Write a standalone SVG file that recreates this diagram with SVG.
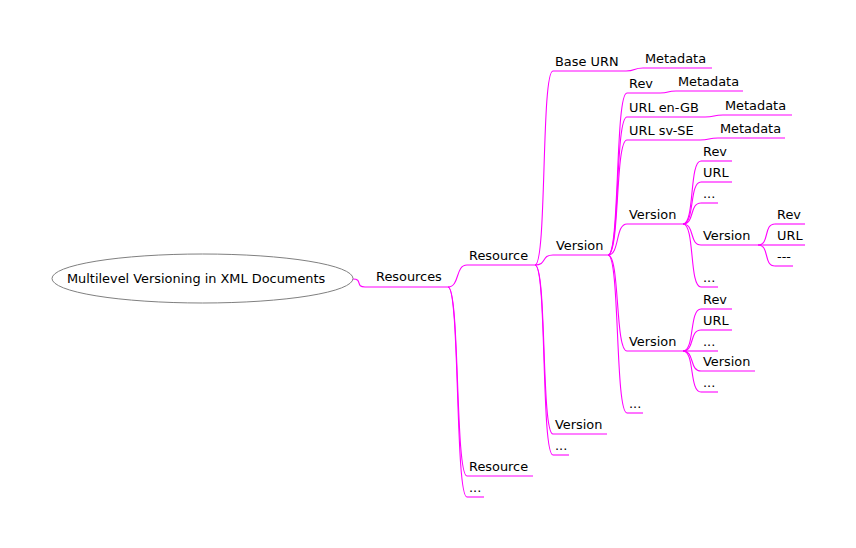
<svg xmlns="http://www.w3.org/2000/svg" width="856" height="548" viewBox="0 0 856 548">
<style>
text{font-family:"DejaVu Sans","Liberation Sans",sans-serif;font-size:12.9px;fill:#000}
.u{stroke:#ff00ff;stroke-width:1.1;fill:none}
.e path{stroke:#ff00ff;stroke-width:1.1;fill:none}
</style>
<rect width="856" height="548" fill="#fff"/>
<g id="edges" class="e">
<path d="M353 279 C363 279 355 287 365 287"/>
<path d="M448 287 C460 287 455 265 467 265"/>
<path d="M448 287 C460 287 455 476 467 476"/>
<path d="M448 287 C460 287 455 497 467 497"/>
<path d="M535 265 C547 265 541 71 553 71"/>
<path d="M535 265 C547 265 541 255 553 255"/>
<path d="M535 265 C547 265 541 434 553 434"/>
<path d="M535 265 C547 265 541 455 553 455"/>
<path d="M626 71 C636 71 633 68 643 68"/>
<path d="M608 255 C620 255 615 93 627 93"/>
<path d="M608 255 C620 255 615 117 627 117"/>
<path d="M608 255 C620 255 615 140 627 140"/>
<path d="M608 255 C620 255 615 224 627 224"/>
<path d="M608 255 C620 255 615 351 627 351"/>
<path d="M608 255 C620 255 615 413 627 413"/>
<path d="M660 93 C670 93 666 91 676 91"/>
<path d="M705 117 C715 117 713 115 723 115"/>
<path d="M700 140 C710 140 708 138 718 138"/>
<path d="M683 224 C695 224 689 161 701 161"/>
<path d="M683 224 C695 224 689 182 701 182"/>
<path d="M683 224 C695 224 689 203 701 203"/>
<path d="M683 224 C695 224 689 245 701 245"/>
<path d="M683 224 C695 224 689 287 701 287"/>
<path d="M758 245 C770 245 763 224 775 224"/>
<path d="M758 245 C770 245 763 245 775 245"/>
<path d="M758 245 C770 245 763 266 775 266"/>
<path d="M683 351 C695 351 689 309 701 309"/>
<path d="M683 351 C695 351 689 330 701 330"/>
<path d="M683 351 C695 351 689 351 701 351"/>
<path d="M683 351 C695 351 689 371 701 371"/>
<path d="M683 351 C695 351 689 392 701 392"/>
</g>
<g id="root"><ellipse cx="202.5" cy="278.5" rx="150.5" ry="24.5" fill="#fff" stroke="#808080" stroke-width="1"/><text x="67" y="283">Multilevel Versioning in XML Documents</text></g>
<g id="n-resources"><path class="u" d="M365 287H448"/><text x="376" y="281">Resources</text></g>
<g id="n-resource1"><path class="u" d="M467 265H535"/><text x="469" y="259.5">Resource</text></g>
<g id="n-resource2"><path class="u" d="M467 476H533"/><text x="469" y="470.5">Resource</text></g>
<g id="n-dots-l2"><path class="u" d="M467 497H484"/><text x="469" y="491.5">...</text></g>
<g id="n-baseurn"><path class="u" d="M553 71H626"/><text x="555" y="65.5">Base URN</text></g>
<g id="n-baseurn-meta"><path class="u" d="M643 68H712"/><text x="645" y="62.5">Metadata</text></g>
<g id="n-version3a"><path class="u" d="M553 255H608"/><text x="556" y="249.5">Version</text></g>
<g id="n-version3b"><path class="u" d="M553 434H607"/><text x="555" y="428.5">Version</text></g>
<g id="n-dots-l3"><path class="u" d="M553 455H569"/><text x="555" y="449.5">...</text></g>
<g id="n-rev4"><path class="u" d="M627 93H660"/><text x="629" y="87.5">Rev</text></g>
<g id="n-rev4-meta"><path class="u" d="M676 91H743"/><text x="678" y="85.5">Metadata</text></g>
<g id="n-urlgb"><path class="u" d="M627 117H705"/><text x="629" y="111.5">URL en-GB</text></g>
<g id="n-urlgb-meta"><path class="u" d="M723 115H792"/><text x="725" y="109.5">Metadata</text></g>
<g id="n-urlse"><path class="u" d="M627 140H700"/><text x="629" y="134.5">URL sv-SE</text></g>
<g id="n-urlse-meta"><path class="u" d="M718 138H785"/><text x="720" y="132.5">Metadata</text></g>
<g id="n-version4a"><path class="u" d="M627 224H683"/><text x="629" y="218.5">Version</text></g>
<g id="n-version4b"><path class="u" d="M627 351H683"/><text x="629" y="345.5">Version</text></g>
<g id="n-dots-l4"><path class="u" d="M627 413H643"/><text x="629" y="407.5">...</text></g>
<g id="n-a-rev"><path class="u" d="M701 161H732"/><text x="703" y="155.5">Rev</text></g>
<g id="n-a-url"><path class="u" d="M701 182H732"/><text x="703" y="176.5">URL</text></g>
<g id="n-a-dots1"><path class="u" d="M701 203H718"/><text x="703" y="197.5">...</text></g>
<g id="n-a-version"><path class="u" d="M701 245H758"/><text x="703" y="239.5">Version</text></g>
<g id="n-a-dots2"><path class="u" d="M701 287H718"/><text x="703" y="281.5">...</text></g>
<g id="n-v5-rev"><path class="u" d="M775 224H805"/><text x="777" y="218.5">Rev</text></g>
<g id="n-v5-url"><path class="u" d="M775 245H805"/><text x="777" y="239.5">URL</text></g>
<g id="n-v5-dash"><path class="u" d="M775 266H793"/><text x="777" y="260.5">---</text></g>
<g id="n-b-rev"><path class="u" d="M701 309H732"/><text x="703" y="303.5">Rev</text></g>
<g id="n-b-url"><path class="u" d="M701 330H732"/><text x="703" y="324.5">URL</text></g>
<g id="n-b-dots1"><path class="u" d="M701 351H718"/><text x="703" y="345.5">...</text></g>
<g id="n-b-version"><path class="u" d="M701 371H755"/><text x="703" y="365.5">Version</text></g>
<g id="n-b-dots2"><path class="u" d="M701 392H718"/><text x="703" y="386.5">...</text></g>
</svg>
